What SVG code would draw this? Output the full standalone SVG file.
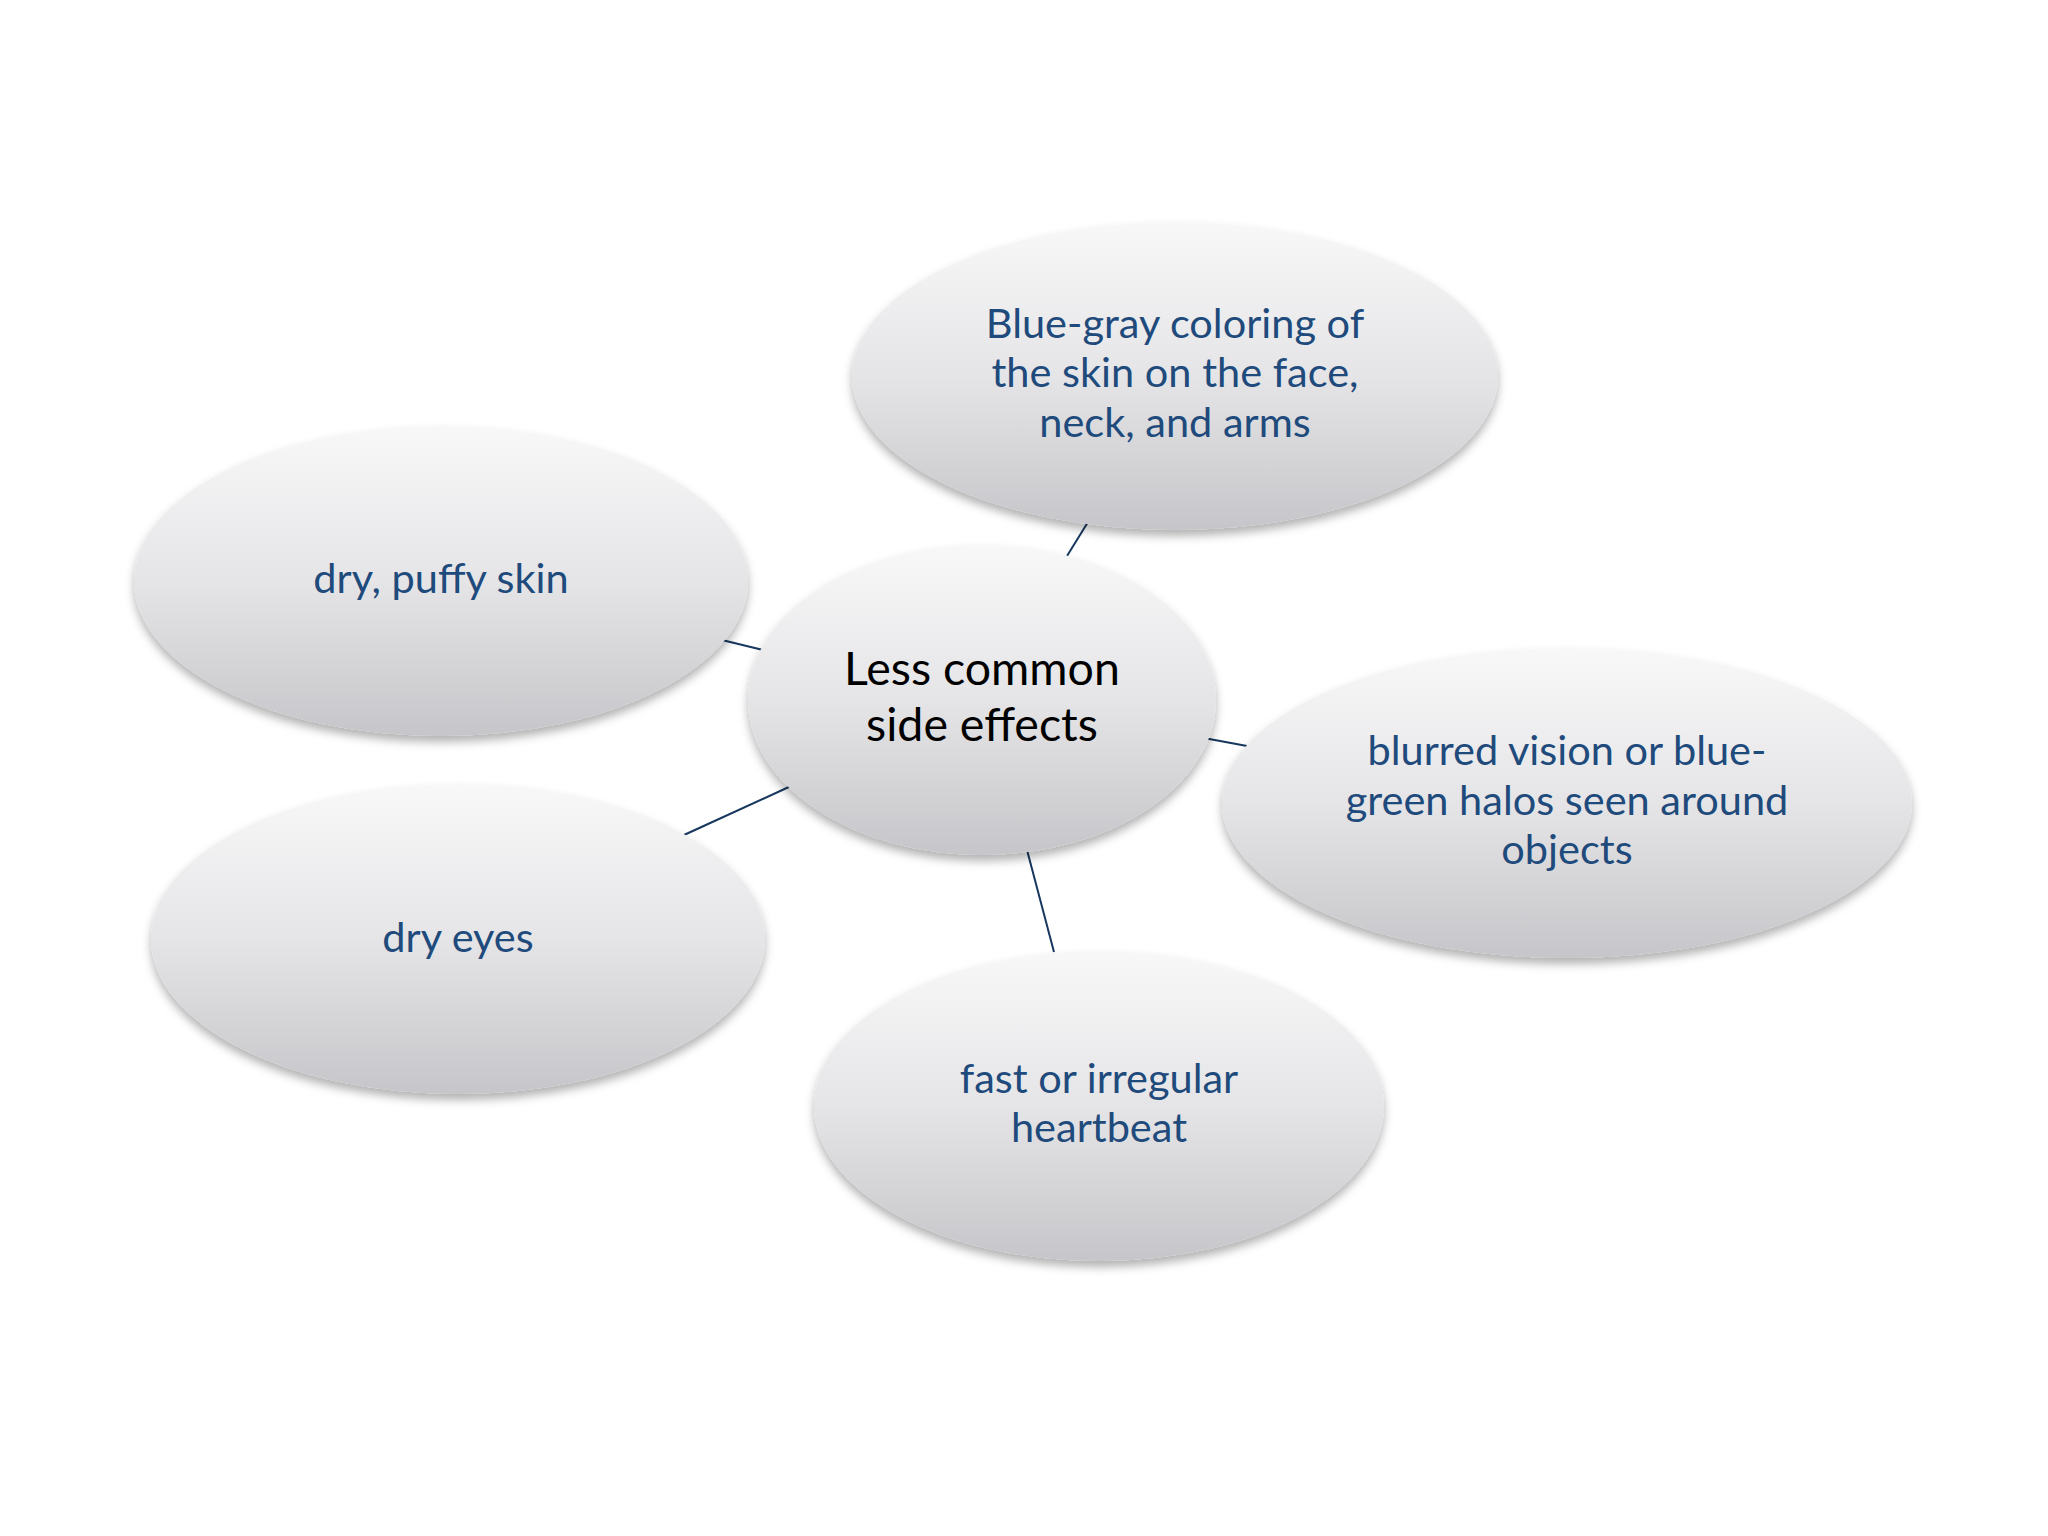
<svg xmlns="http://www.w3.org/2000/svg" width="2048" height="1536" viewBox="0 0 2048 1536">
<defs>
<linearGradient id="g" x1="0" y1="0" x2="0" y2="1">
<stop offset="0" stop-color="#f8f8f9"/>
<stop offset="0.5" stop-color="#e5e5e7"/>
<stop offset="1" stop-color="#c6c6ca"/>
</linearGradient>
<filter id="sh" x="-10%" y="-10%" width="120%" height="130%">
<feDropShadow dx="0" dy="6" stdDeviation="5" flood-color="#000" flood-opacity="0.3"/>
</filter>
<style>
.n{fill:url(#g);filter:url(#sh)}
.t{font-family:Lato,"Liberation Sans",sans-serif;font-size:41.5px;fill:#1f4a7c;text-anchor:middle}
.c{font-family:Lato,"Liberation Sans",sans-serif;font-size:46.5px;fill:#000;text-anchor:middle}
.l{stroke:#17375e;stroke-width:2;fill:none}
</style>
</defs>
<rect width="2048" height="1536" fill="#fff"/>
<g id="connectors">
<line class="l" x1="1067" y1="556" x2="1088" y2="522"/>
<line class="l" x1="722" y1="640" x2="763" y2="650"/>
<line class="l" x1="1204" y1="738" x2="1247" y2="746"/>
<line class="l" x1="684" y1="835" x2="791" y2="786"/>
<line class="l" x1="1027" y1="850" x2="1054" y2="952"/>
</g>
<g id="node-top">
<ellipse class="n" cx="1175" cy="376" rx="323" ry="154"/>
<text class="t" x="1175" y="338">Blue-gray coloring of</text>
<text class="t" x="1175" y="387">the skin on the face,</text>
<text class="t" x="1175" y="437">neck, and arms</text>
</g>
<g id="node-dry-skin">
<ellipse class="n" cx="441" cy="581" rx="307" ry="155"/>
<text class="t" x="441" y="593">dry, puffy skin</text>
</g>
<g id="node-center">
<ellipse class="n" cx="982" cy="700" rx="234" ry="155"/>
<text class="c" x="982" y="685">Less common</text>
<text class="c" x="982" y="741">side effects</text>
</g>
<g id="node-vision">
<ellipse class="n" cx="1567" cy="803" rx="345" ry="155"/>
<text class="t" x="1567" y="765">blurred vision or blue-</text>
<text class="t" x="1567" y="815">green halos seen around</text>
<text class="t" x="1567" y="864">objects</text>
</g>
<g id="node-dry-eyes">
<ellipse class="n" cx="458" cy="939" rx="307" ry="155"/>
<text class="t" x="458" y="952">dry eyes</text>
</g>
<g id="node-heartbeat">
<ellipse class="n" cx="1099" cy="1106" rx="285" ry="155"/>
<text class="t" x="1099" y="1093">fast or irregular</text>
<text class="t" x="1099" y="1142">heartbeat</text>
</g>
</svg>
